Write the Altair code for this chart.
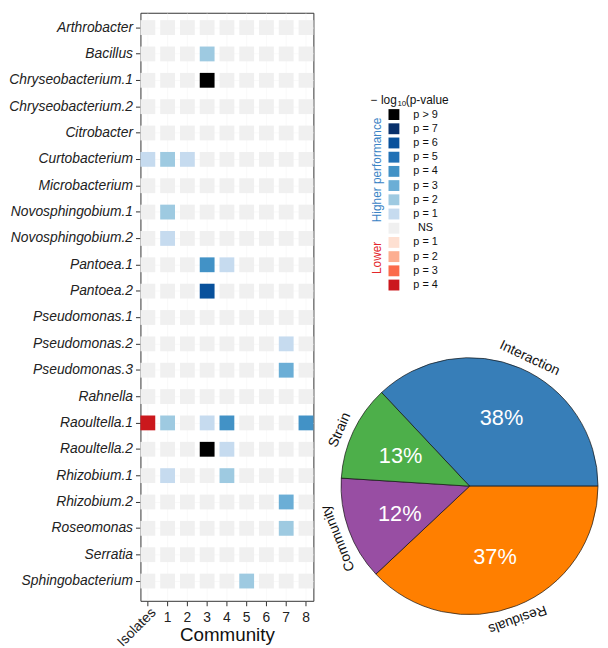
import math
import altair as alt
import pandas as pd

FONT = "Liberation Sans"

# ---------------- data ----------------
species = [
    "Arthrobacter", "Bacillus", "Chryseobacterium.1", "Chryseobacterium.2",
    "Citrobacter", "Curtobacterium", "Microbacterium", "Novosphingobium.1",
    "Novosphingobium.2", "Pantoea.1", "Pantoea.2", "Pseudomonas.1",
    "Pseudomonas.2", "Pseudomonas.3", "Rahnella", "Raoultella.1",
    "Raoultella.2", "Rhizobium.1", "Rhizobium.2", "Roseomonas",
    "Serratia", "Sphingobacterium",
]
communities = ["Isolates", "1", "2", "3", "4", "5", "6", "7", "8"]

# significance code per species (columns follow `communities`):
# 0 = NS, +k = higher performance at -log10(p) level k (10 means p > 9), -k = lower
sig_matrix = [
    [0, 0, 0, 0, 0, 0, 0, 0, 0],    # Arthrobacter
    [0, 0, 0, 2, 0, 0, 0, 0, 0],    # Bacillus
    [0, 0, 0, 10, 0, 0, 0, 0, 0],   # Chryseobacterium.1
    [0, 0, 0, 0, 0, 0, 0, 0, 0],    # Chryseobacterium.2
    [0, 0, 0, 0, 0, 0, 0, 0, 0],    # Citrobacter
    [1, 2, 1, 0, 0, 0, 0, 0, 0],    # Curtobacterium
    [0, 0, 0, 0, 0, 0, 0, 0, 0],    # Microbacterium
    [0, 2, 0, 0, 0, 0, 0, 0, 0],    # Novosphingobium.1
    [0, 1, 0, 0, 0, 0, 0, 0, 0],    # Novosphingobium.2
    [0, 0, 0, 4, 1, 0, 0, 0, 0],    # Pantoea.1
    [0, 0, 0, 6, 0, 0, 0, 0, 0],    # Pantoea.2
    [0, 0, 0, 0, 0, 0, 0, 0, 0],    # Pseudomonas.1
    [0, 0, 0, 0, 0, 0, 0, 1, 0],    # Pseudomonas.2
    [0, 0, 0, 0, 0, 0, 0, 3, 0],    # Pseudomonas.3
    [0, 0, 0, 0, 0, 0, 0, 0, 0],    # Rahnella
    [-4, 2, 0, 1, 4, 0, 0, 0, 4],   # Raoultella.1
    [0, 0, 0, 10, 1, 0, 0, 0, 0],   # Raoultella.2
    [0, 1, 0, 0, 2, 0, 0, 0, 0],    # Rhizobium.1
    [0, 0, 0, 0, 0, 0, 0, 3, 0],    # Rhizobium.2
    [0, 0, 0, 0, 0, 0, 0, 2, 0],    # Roseomonas
    [0, 0, 0, 0, 0, 0, 0, 0, 0],    # Serratia
    [0, 0, 0, 0, 0, 2, 0, 0, 0],    # Sphingobacterium
]

levels = ["h10", "h7", "h6", "h5", "h4", "h3", "h2", "h1", "ns", "l1", "l2", "l3", "l4"]
level_labels = ["p > 9", "p = 7", "p = 6", "p = 5", "p = 4", "p = 3", "p = 2",
                "p = 1", "NS", "p = 1", "p = 2", "p = 3", "p = 4"]
level_colors = ["#000000", "#08306b", "#08519c", "#2171b5", "#4292c6", "#6baed6",
                "#9ecae1", "#c6dbef", "#f0f0f0", "#fee0d2", "#fcae91", "#fb6a4a", "#cb181d"]

legend_title_parts = ["\u2212 log", "10", "(p-value"]
side_labels = ["Higher performance", "Lower"]
side_colors = ["#3a83c5", "#e3262b"]

# pie: slice sizes as drawn, and the percentages as printed on the slices
pie_parts = ["Interaction", "Residuals", "Community", "Strain"]
pie_values = [37, 38, 13, 12]
pie_printed = [38, 37, 12, 13]
pie_colors = ["#377eb8", "#ff7f00", "#984ea3", "#4daf4a"]


def code_to_level(k):
    if k == 0:
        return "ns"
    return ("h%d" % k) if k > 0 else ("l%d" % (-k))


rows = []
for s, codes in zip(species, sig_matrix):
    for c, k in zip(communities, codes):
        rows.append({"species": s, "community": c, "level": code_to_level(k)})
heat_df = pd.DataFrame(rows)

# ---------------- heatmap ----------------
HM_W, HM_H = 175, 595

x_enc = alt.X(
    "community:N", sort=communities,
    scale=alt.Scale(paddingInner=0.25, paddingOuter=0),
    axis=alt.Axis(
        title="Community", labelAngle=0,
        labelExpr="datum.value == 'Isolates' ? '' : datum.value",
        labelFont=FONT, labelFontSize=14, labelColor="#222222", labelPadding=5,
        titleFont=FONT, titleFontSize=19, titleFontWeight="normal", titleColor="#111111",
        titlePadding=1, tickSize=5, tickColor="#333333", domain=False,
        grid=True, gridColor="#f3f3f3", gridWidth=0.5, zindex=0,
    ),
)
y_enc = alt.Y(
    "species:N", sort=species,
    scale=alt.Scale(paddingInner=0.4375, paddingOuter=0.375, align=0.375),
    axis=alt.Axis(
        title=None, labelFont=FONT, labelFontSize=14, labelFontStyle="italic",
        labelColor="#222222", labelPadding=3, tickSize=5, tickColor="#333333",
        domain=False, grid=True, gridColor="#f3f3f3", gridWidth=0.5, zindex=0,
    ),
)

cells = alt.Chart(heat_df).mark_rect().encode(
    x=x_enc, y=y_enc,
    color=alt.Color("level:N", scale=alt.Scale(domain=levels, range=level_colors), legend=None),
)

iso_df = pd.DataFrame({"community": [communities[0]]})
iso_label = alt.Chart(iso_df).mark_text(
    angle=315, align="right", baseline="top", font=FONT, fontSize=14,
    color="#222222", xOffset=1,
).encode(
    x=alt.X("community:N", sort=communities),
    y=alt.value(HM_H + 5),
    text="community:N",
)

heatmap = alt.layer(cells, iso_label).properties(
    width=HM_W, height=HM_H,
    view=alt.ViewBackground(stroke="#333333", strokeWidth=1),
)

# ---------------- legend panel ----------------
RIGHT_X0 = 320        # absolute left of right column (approx)
PANEL_W = 280
LEG_H = 290

leg_df = pd.DataFrame({"level": levels, "label": level_labels})
leg_y = alt.Y("level:N", sort=levels,
              scale=alt.Scale(type="point", range=[103, 275.5], padding=0), axis=None)

leg_squares = alt.Chart(leg_df).mark_square(size=121, opacity=1).encode(
    x=alt.value(393.5 - RIGHT_X0), y=leg_y,
    color=alt.Color("level:N", scale=alt.Scale(domain=levels, range=level_colors), legend=None),
)
leg_labels = alt.Chart(leg_df).mark_text(
    align="center", baseline="middle", font=FONT, fontSize=11, color="#111111"
).encode(x=alt.value(425.5 - RIGHT_X0), y=leg_y, text="label:N")

title_df = pd.DataFrame({"t": legend_title_parts})
t1 = alt.Chart(title_df.iloc[[0]]).mark_text(align="left", baseline="middle", font=FONT, fontSize=12, color="#111111").encode(
    x=alt.value(370 - RIGHT_X0), y=alt.value(88), text="t:N")
t2 = alt.Chart(title_df.iloc[[1]]).mark_text(align="left", baseline="middle", font=FONT, fontSize=8, color="#111111").encode(
    x=alt.value(397 - RIGHT_X0), y=alt.value(92), text="t:N")
t3 = alt.Chart(title_df.iloc[[2]]).mark_text(align="left", baseline="middle", font=FONT, fontSize=12, color="#111111").encode(
    x=alt.value(405.5 - RIGHT_X0), y=alt.value(88), text="t:N")

side_df = pd.DataFrame({"t": side_labels, "c": side_colors})
side_hi = alt.Chart(side_df.iloc[[0]]).mark_text(angle=270, align="center", baseline="middle", font=FONT, fontSize=12, color=side_colors[0]).encode(
    x=alt.value(376 - RIGHT_X0), y=alt.value(167 - 8), text="t:N")
side_lo = alt.Chart(side_df.iloc[[1]]).mark_text(angle=270, align="center", baseline="middle", font=FONT, fontSize=12, color=side_colors[1]).encode(
    x=alt.value(376 - RIGHT_X0), y=alt.value(256 - 8), text="t:N")

legend_panel = alt.layer(leg_squares, leg_labels, t1, t2, t3, side_hi, side_lo).properties(
    width=PANEL_W, height=LEG_H
)

# ---------------- pie ----------------
total = float(sum(pie_values))
start_deg = 90.0 - pie_values[0] / total * 360.0
start_rad = math.radians(start_deg % 360.0)

# tangential angle of each outer label (mid of its printed share)
cum = 0.0
mid_angles = []
for v in pie_printed:
    mid = cum + v / 2.0
    mid_angles.append((start_deg + mid / total * 360.0) % 360.0)
    cum += v

pie_df = pd.DataFrame({
    "part": pie_parts,
    "value": pie_values,
    "printed": pie_printed,
    "order": list(range(len(pie_parts))),
    "pct": ["%d%%" % v for v in pie_printed],
    "angle": mid_angles,
})

CX = 470 - RIGHT_X0
CY = 487 - (8 + LEG_H)
PIE_R = 130

theta_scale = alt.Scale(range=[start_rad, start_rad + 2 * math.pi])
theta = alt.Theta("value:Q", stack=True, scale=theta_scale)
theta_lab = alt.Theta("printed:Q", stack=True, scale=theta_scale)
order = alt.Order("order:Q")

arcs = alt.Chart(pie_df).mark_arc(radius=PIE_R, stroke="#111111", strokeWidth=0.7).encode(
    theta=theta, order=order, x=alt.value(CX), y=alt.value(CY),
    color=alt.Color("part:N", scale=alt.Scale(domain=pie_parts, range=pie_colors), legend=None),
)
pct = alt.Chart(pie_df).mark_text(radius=76, font=FONT, fontSize=22, color="white").encode(
    theta=theta_lab, order=order, x=alt.value(CX), y=alt.value(CY), text="pct:N",
)
outer = alt.Chart(pie_df).mark_text(radius=143, font=FONT, fontSize=14, color="#111111").encode(
    theta=theta_lab, order=order, x=alt.value(CX), y=alt.value(CY), text="part:N",
    angle=alt.Angle("angle:Q", scale=None),
)

pie_panel = alt.layer(arcs, pct, outer).properties(width=PANEL_W, height=335)

right = alt.vconcat(legend_panel, pie_panel, spacing=0).resolve_scale(color="independent")

chart = alt.hconcat(heatmap, right, spacing=4).resolve_scale(
    color="independent"
).properties(
    padding=0, background="white"
).configure_view(stroke=None)

chart.save("out.html", embed_options={"renderer": "svg", "actions": False})
